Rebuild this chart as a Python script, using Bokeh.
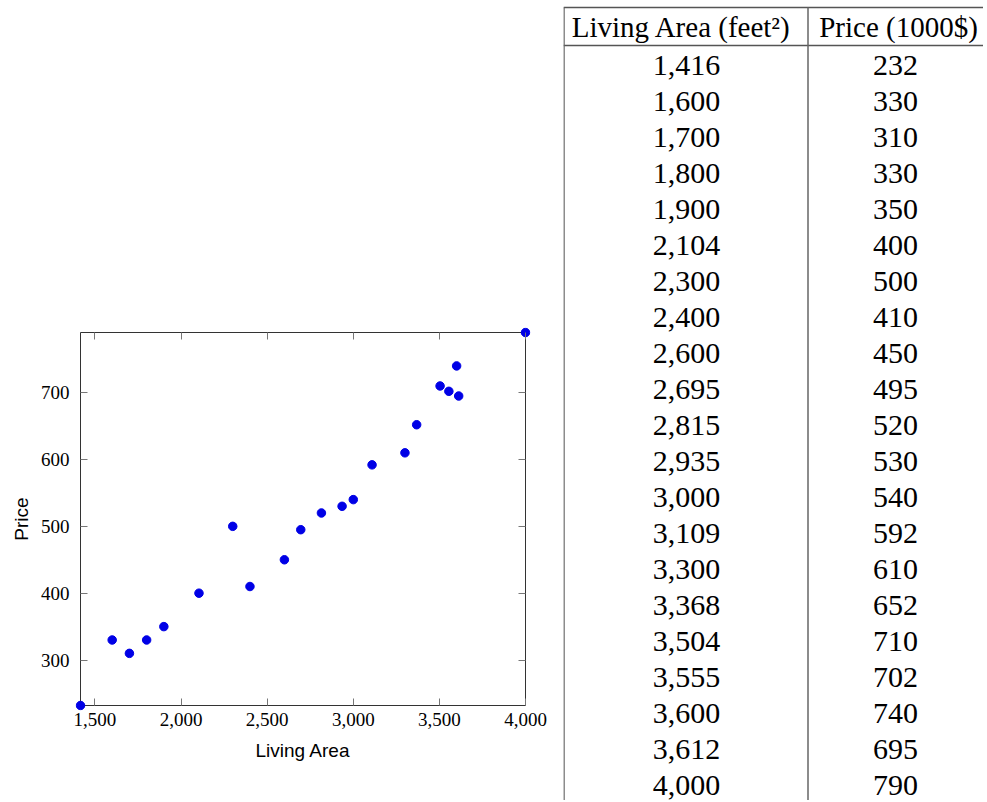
from bokeh.plotting import figure
from bokeh.layouts import row, column
from bokeh.models import Range1d, LinearAxis, FixedTicker, NumeralTickFormatter, ColumnDataSource, Spacer
from bokeh.core.properties import value
from bokeh.embed import file_html
from bokeh.resources import INLINE

# ---- data ----
living_area = [1416, 1600, 1700, 1800, 1900, 2104, 2300, 2400, 2600, 2695, 2815,
               2935, 3000, 3109, 3300, 3368, 3504, 3555, 3600, 3612, 4000]
price = [232, 330, 310, 330, 350, 400, 500, 410, 450, 495, 520,
         530, 540, 592, 610, 652, 710, 702, 740, 695, 790]
x_ticks = [1500, 2000, 2500, 3000, 3500, 4000]
y_ticks = [300, 400, 500, 600, 700]
headers = ["Living Area (feet²)", "Price (1000$)"]

SERIF = "Liberation Serif"
SANS = "Liberation Sans"
FRAME = "#333333"
TICK = "#777777"

# ---- scatter plot ----
# axis box spans 445 x 373 px; the canvas frame is padded by PAD px on each side
# so that markers at the extremes are not clipped
PAD = 5
BOX_W, BOX_H = 445, 373
xmin, xmax = min(living_area), max(living_area)
ymin, ymax = min(price), max(price)
xpad = (xmax - xmin) / BOX_W * PAD
ypad = (ymax - ymin) / BOX_H * PAD

p = figure(width=563, height=486, output_backend="svg", toolbar_location=None,
           x_range=Range1d(xmin - xpad, xmax + xpad),
           y_range=Range1d(ymin - ypad, ymax + ypad),
           min_border_left=75, min_border_right=33, min_border_top=11, min_border_bottom=92,
           x_axis_label="Living Area", y_axis_label="Price")
p.grid.visible = False
p.outline_line_color = None
p.background_fill_color = "white"
p.border_fill_color = "white"

p.xaxis.ticker = FixedTicker(ticks=x_ticks)
p.yaxis.ticker = FixedTicker(ticks=y_ticks)
p.xaxis.formatter = NumeralTickFormatter(format="0,0")

for ax in (p.xaxis[0], p.yaxis[0]):
    ax.axis_line_color = None
    ax.major_tick_in = 7 + PAD
    ax.major_tick_out = -PAD
    ax.major_tick_line_color = TICK
    ax.minor_tick_line_color = None
    ax.major_label_text_font = SERIF
    ax.major_label_text_font_size = "19px"
    ax.major_label_text_color = "black"
    ax.axis_label_text_font = SANS
    ax.axis_label_text_font_size = "19px"
    ax.axis_label_text_font_style = "normal"
    ax.axis_label_text_color = "black"
p.xaxis.major_label_standoff = 2
p.yaxis.major_label_standoff = 6
p.xaxis.axis_label_standoff = 11
p.yaxis.axis_label_standoff = 6

top_ax = LinearAxis(ticker=FixedTicker(ticks=x_ticks))
right_ax = LinearAxis(ticker=FixedTicker(ticks=y_ticks))
for ax in (top_ax, right_ax):
    ax.axis_line_color = None
    ax.major_tick_in = 7 + PAD
    ax.major_tick_out = -PAD
    ax.major_tick_line_color = TICK
    ax.minor_tick_line_color = None
    ax.major_label_text_font_size = "0px"
    ax.major_label_text_color = None
    ax.major_label_standoff = 0
p.add_layout(top_ax, "above")
p.add_layout(right_ax, "right")

# axis box at the data limits
p.quad(left=[xmin], right=[xmax], bottom=[ymin], top=[ymax],
       fill_color=None, line_color=FRAME, line_width=1)

p.scatter(living_area, price, size=8.5, fill_color="#0000e6", line_color="#0000e6")

left = column(Spacer(width=563, height=316), p, spacing=0)

# ---- table ----
W, H = 420, 800
n = len(living_area)
ROW = 36.0
OFF = 29.0
tbl = figure(width=W, height=H, output_backend="svg", toolbar_location=None,
             x_range=Range1d(0, W), y_range=Range1d((H - OFF) / ROW, -OFF / ROW),
             min_border=0)
tbl.axis.visible = False
tbl.grid.visible = False
tbl.outline_line_color = None
tbl.background_fill_color = "white"
tbl.border_fill_color = "white"

col_edges = [0.5, 244.5]
centers = [123, 332]

# lines
top_y = (7 - OFF) / ROW
head_y = (45 - OFF) / ROW
bottom_y = (H - OFF) / ROW
tbl.segment(x0=[0, 0], y0=[top_y, head_y], x1=[W, W], y1=[top_y, head_y],
            line_color="#555555", line_width=1.3)
tbl.segment(x0=col_edges, y0=[top_y, top_y],
            x1=col_edges, y1=[bottom_y, bottom_y],
            line_color="#666666", line_width=1.5)

# headers
tbl.text(x=[118, 335], y=[(26 - OFF) / ROW] * 2, text=headers,
         text_font=value(SERIF), text_font_size="29px", text_align="center",
         text_baseline="middle", text_color="black")

rows_y = list(range(1, n + 1))
src = ColumnDataSource(dict(y=rows_y,
                            a=[f"{v:,}" for v in living_area],
                            b=[f"{v}" for v in price],
                            xa=[centers[0]] * n, xb=[centers[1]] * n))
tbl.text(x="xa", y="y", text="a", source=src, text_font=value(SERIF),
         text_font_size="30px", text_align="center", text_baseline="middle", text_color="black")
tbl.text(x="xb", y="y", text="b", source=src, text_font=value(SERIF),
         text_font_size="30px", text_align="center", text_baseline="middle", text_color="black")

layout = row(left, tbl, spacing=0)
open("out.html", "w").write(file_html(layout, INLINE))
